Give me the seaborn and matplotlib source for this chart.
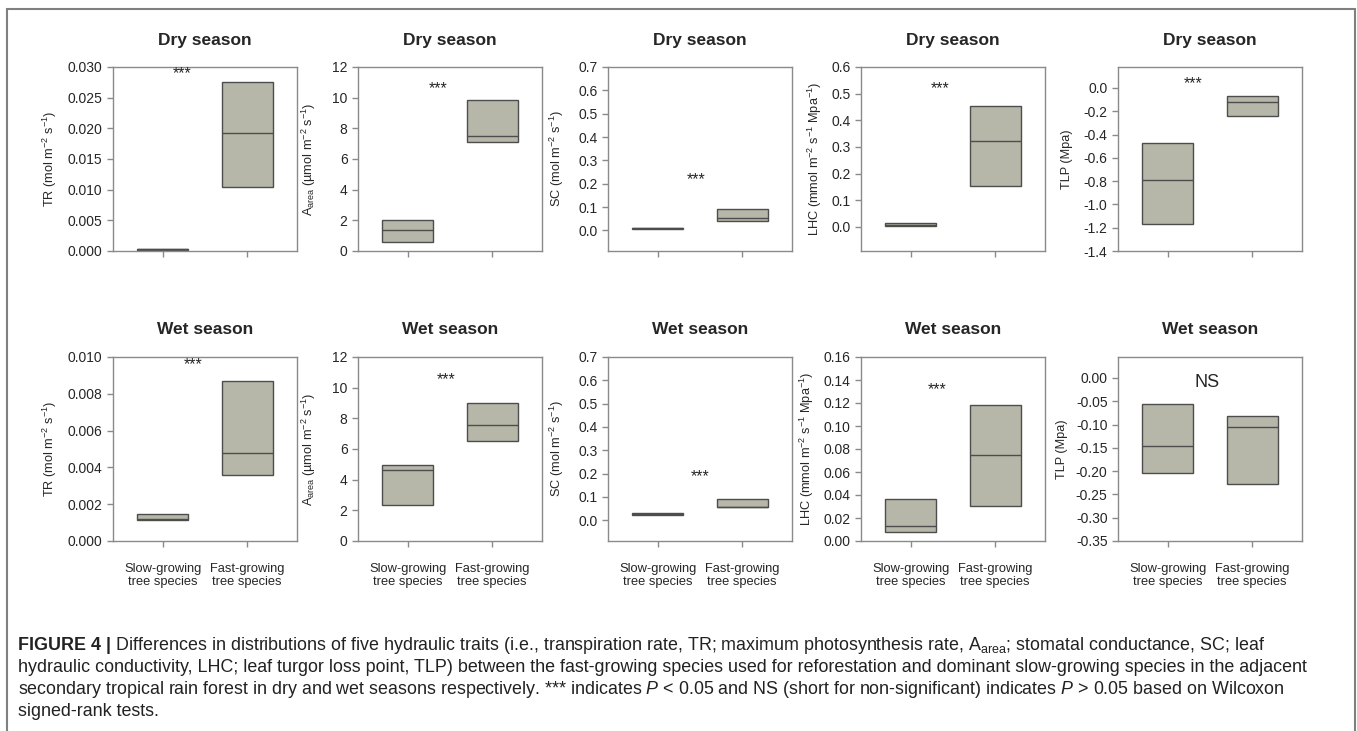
import numpy as np
import pandas as pd
import seaborn as sns
import matplotlib.pyplot as plt
from matplotlib.patches import Rectangle

W, H = 1357, 731

groups = ["Slow-growing\ntree species", "Fast-growing\ntree species"]

# (q1, median, q3) for slow-growing, fast-growing
tr_dry = [[0.0002, 0.0003, 0.0004], [0.0105, 0.0192, 0.0275]]
a_dry = [[0.61, 1.35, 2.03], [7.11, 7.53, 9.86]]
sc_dry = [[0.007, 0.009, 0.011], [0.040, 0.054, 0.094]]
lhc_dry = [[0.004, 0.006, 0.016], [0.153, 0.323, 0.452]]
tlp_dry = [[-1.164, -0.793, -0.471], [-0.239, -0.118, -0.069]]

tr_wet = [[0.00115, 0.00120, 0.00147], [0.0036, 0.0048, 0.0087]]
a_wet = [[2.33, 4.65, 4.97], [6.50, 7.55, 9.03]]
sc_wet = [[0.021, 0.025, 0.033], [0.055, 0.058, 0.090]]
lhc_wet = [[0.0081, 0.0128, 0.0369], [0.0303, 0.0751, 0.1184]]
tlp_wet = [[-0.2049, -0.1457, -0.0556], [-0.2287, -0.1053, -0.0808]]

ylabels = [
    "TR (mol m$^{-2}$ s$^{-1}$)",
    "A$_{\\mathrm{area}}$ (µmol m$^{-2}$ s$^{-1}$)",
    "SC (mol m$^{-2}$ s$^{-1}$)",
    "LHC (mmol m$^{-2}$ s$^{-1}$ Mpa$^{-1}$)",
    "TLP (Mpa)",
]

signif_dry = ["***", "***", "***", "***", "***"]
signif_wet = ["***", "***", "***", "***", "NS"]

BOX_FILL = "#b6b6a9"
EDGE = "#4d4d4d"
SPINE = "#8a8a8a"

sns.set_style("ticks")
plt.rcParams["font.family"] = ["Liberation Sans", "DejaVu Sans"]
plt.rcParams["mathtext.fontset"] = "custom"
plt.rcParams["mathtext.rm"] = "Liberation Sans"
plt.rcParams["mathtext.it"] = "Liberation Sans:italic"
plt.rcParams["mathtext.bf"] = "Liberation Sans:bold"
plt.rcParams["axes.unicode_minus"] = False


def box_df(stats):
    rows = []
    for g, (q1, med, q3) in zip(groups, stats):
        for v in (q1, q1, med, q3, q3):
            rows.append((g, v))
    return pd.DataFrame(rows, columns=["group", "value"])


panels = [
    # stats, ylim, ticks, fmt, sig pos
    (tr_dry, (0, 0.030), np.arange(0, 0.0301, 0.005), "{:.3f}", (0.23, 0.0289)),
    (a_dry, (0, 12), np.arange(0, 12.1, 2), "{:.0f}", (0.36, 10.6)),
    (sc_dry, (-0.088, 0.7), np.arange(0, 0.71, 0.1), "{:.1f}", (0.45, 0.218)),
    (lhc_dry, (-0.09, 0.6), np.arange(0, 0.61, 0.1), "{:.1f}", (0.35, 0.518)),
    (tlp_dry, (-1.4, 0.18), np.arange(-1.4, 0.01, 0.2), "{:.1f}", (0.30, 0.037)),
    (tr_wet, (0, 0.010), np.arange(0, 0.0101, 0.002), "{:.3f}", (0.36, 0.0096)),
    (a_wet, (0, 12), np.arange(0, 12.1, 2), "{:.0f}", (0.46, 10.5)),
    (sc_wet, (-0.089, 0.7), np.arange(0, 0.71, 0.1), "{:.1f}", (0.50, 0.185)),
    (lhc_wet, (0, 0.16), np.arange(0, 0.161, 0.02), "{:.2f}", (0.31, 0.132)),
    (tlp_wet, (-0.35, 0.045), np.arange(-0.35, 0.001, 0.05), "{:.2f}", (0.46, -0.009)),
]

lefts = [113, 358, 608, 861, 1118]
tops = [67, 357]
label_x = [-0.293, -0.217, -0.228, -0.201, -0.245,
           -0.293, -0.217, -0.228, -0.245, -0.272]
aw, ah = 184, 184

fig = plt.figure(figsize=(W / 100, H / 100), dpi=100)
fig.patch.set_facecolor("white")

for i, (stats, ylim, ticks, fmt, sig) in enumerate(panels):
    row, col = divmod(i, 5)
    left, top = lefts[col], tops[row]
    ax = fig.add_axes([left / W, 1 - (top + ah) / H, aw / W, ah / H])
    sns.boxplot(data=box_df(stats), x="group", y="value", order=groups, ax=ax,
                width=0.6, color=BOX_FILL, linecolor=EDGE, linewidth=1,
                whis=0, showcaps=False, showfliers=False, saturation=1)
    ax.set_xlim(-0.59, 1.59)
    ax.set_ylim(*ylim)
    ax.set_yticks(ticks)
    ax.set_yticklabels([fmt.format(round(t, 6) + 0.0) for t in ticks])
    ax.set_xlabel("")
    ax.set_ylabel(ylabels[col], fontsize=9.2)
    ax.yaxis.set_label_coords(label_x[i], 0.5)
    for s in ax.spines.values():
        s.set_color(SPINE)
        s.set_linewidth(1)
    ax.tick_params(axis="both", color=SPINE, length=4, width=1)
    ax.tick_params(axis="y", labelsize=10)
    ax.tick_params(axis="x", pad=11.5, labelsize=9.3)
    if row == 0:
        ax.tick_params(labelbottom=False)
    else:
        for lab in ax.get_xticklabels():
            lab.set_linespacing(1.15)
    sig_txt = (signif_dry if row == 0 else signif_wet)[col]
    if sig_txt == "NS":
        ax.text(sig[0], sig[1], sig_txt, ha="center", va="center", fontsize=13)
    else:
        ax.text(sig[0], sig[1], sig_txt, ha="center", va="center", fontsize=11.5)
    title = "Dry season" if row == 0 else "Wet season"
    fig.text((left + aw / 2) / W, 1 - (45 if row == 0 else 334) / H, title,
             ha="center", va="baseline", fontsize=12.5, fontweight="bold")

# frame around figure
fig.add_artist(Rectangle((7 / W, -0.05), (1355 - 7) / W, (731 - 9) / H + 0.05,
                         transform=fig.transFigure, fill=False,
                         edgecolor="#808080", linewidth=1.5))

cap_font = ["Liberation Sans Narrow", "Liberation Sans", "DejaVu Sans"]
cap_size = 12.9
cap_color = "#222222"
cap_lines = [
    " Differences in distributions of five hydraulic traits (i.e., transpiration rate, TR; "
    "maximum photosynthesis rate, A$_{\\mathrm{area}}$; stomatal conductance, SC; leaf",
    "hydraulic conductivity, LHC; leaf turgor loss point, TLP) between the fast-growing species "
    "used for reforestation and dominant slow-growing species in the adjacent",
    "secondary tropical rain forest in dry and wet seasons respectively. *** indicates $P$ < 0.05 "
    "and NS (short for non-significant) indicates $P$ > 0.05 based on Wilcoxon",
    "signed-rank tests.",
]
cap_y = [646, 668, 690, 712]
x0 = 18
bold = fig.text(x0 / W, 1 - cap_y[0] / H, "FIGURE 4 |", family=cap_font,
                fontsize=cap_size, fontweight="bold", color=cap_color, va="center")
fig.canvas.draw()
bb = bold.get_window_extent(renderer=fig.canvas.get_renderer())
fig.text(bb.x1 / W, 1 - cap_y[0] / H, cap_lines[0], family=cap_font,
         fontsize=cap_size, color=cap_color, va="center")
for line, y in zip(cap_lines[1:], cap_y[1:]):
    fig.text(x0 / W, 1 - y / H, line, family=cap_font, fontsize=cap_size,
             color=cap_color, va="center")

fig.savefig("out.png", dpi=100)
